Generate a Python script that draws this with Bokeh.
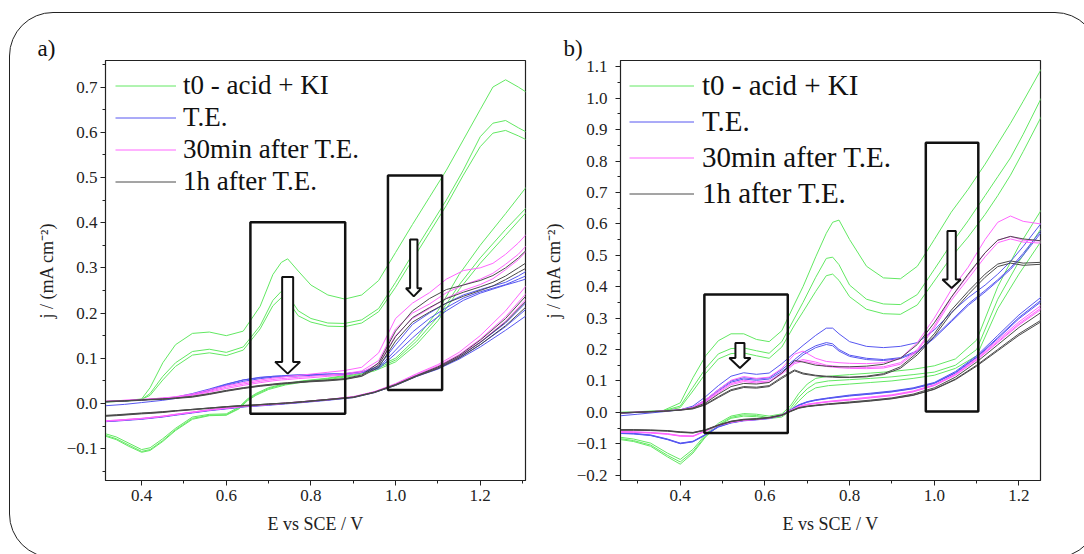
from bokeh.plotting import figure
from bokeh.models import Range1d, FixedTicker, Legend, LegendItem, BoxAnnotation, GlobalInlineStyleSheet
from bokeh.layouts import row
from bokeh.embed import file_html
from bokeh.resources import INLINE

# ---------------- common ----------------
SERIES_LABELS = ["t0 - acid + KI", "T.E.", "30min after T.E.", "1h after T.E."]
SERIES_COLORS = ["#62e862", "#5656f0", "#ff66ff", "#4a4a4a"]
X_TICKS = [0.4, 0.6, 0.8, 1.0, 1.2]
X_TICK_LABELS = ["0.4", "0.6", "0.8", "1.0", "1.2"]

# ---------------- panel a data ----------------
A_XF = [0.30, 0.36, 0.40, 0.42, 0.45, 0.48, 0.52, 0.56, 0.60, 0.64, 0.68, 0.71, 0.73, 0.745, 0.77,
        0.80, 0.84, 0.88, 0.92, 0.96, 1.00, 1.04, 1.08, 1.12, 1.16, 1.20, 1.23, 1.26, 1.29, 1.31]
A_XR = [1.31, 1.26, 1.20, 1.15, 1.10, 1.05, 1.00, 0.95, 0.90, 0.84, 0.78, 0.74, 0.70, 0.67, 0.65,
        0.63, 0.60, 0.56, 0.52, 0.48, 0.45, 0.42, 0.40, 0.37, 0.34, 0.30]

A_T0_FWD = [
    [0.003, 0.006, 0.010, 0.035, 0.090, 0.130, 0.155, 0.158, 0.150, 0.160, 0.215, 0.285, 0.312, 0.320, 0.293,
     0.262, 0.240, 0.231, 0.240, 0.272, 0.334, 0.396, 0.456, 0.516, 0.583, 0.650, 0.700, 0.716, 0.700, 0.688],
    [0.003, 0.005, 0.009, 0.022, 0.060, 0.090, 0.115, 0.120, 0.113, 0.125, 0.172, 0.228, 0.248, 0.240, 0.205,
     0.188, 0.178, 0.177, 0.185, 0.210, 0.268, 0.330, 0.390, 0.450, 0.516, 0.590, 0.620, 0.626, 0.610, 0.600],
    [0.003, 0.005, 0.009, 0.018, 0.052, 0.082, 0.107, 0.112, 0.106, 0.118, 0.165, 0.216, 0.234, 0.228, 0.194,
     0.180, 0.171, 0.170, 0.178, 0.203, 0.257, 0.318, 0.378, 0.438, 0.505, 0.568, 0.598, 0.604, 0.592, 0.583],
]
A_T0_REV = [
    [0.480, 0.420, 0.350, 0.285, 0.205, 0.145, 0.100, 0.078, 0.065, 0.056, 0.050, 0.044, 0.035, 0.022, 0.010,
     -0.008, -0.023, -0.024, -0.030, -0.055, -0.078, -0.098, -0.102, -0.088, -0.074, -0.063],
    [0.434, 0.385, 0.322, 0.262, 0.192, 0.138, 0.096, 0.075, 0.063, 0.055, 0.049, 0.043, 0.033, 0.020, 0.008,
     -0.010, -0.025, -0.026, -0.033, -0.058, -0.082, -0.102, -0.106, -0.092, -0.078, -0.066],
    [0.424, 0.372, 0.310, 0.252, 0.183, 0.131, 0.092, 0.072, 0.061, 0.053, 0.047, 0.041, 0.031, 0.018, 0.006,
     -0.012, -0.026, -0.027, -0.035, -0.060, -0.084, -0.104, -0.108, -0.095, -0.080, -0.068],
]
A_TE_FWD = [
    [-0.006, -0.002, 0.002, 0.004, 0.007, 0.011, 0.020, 0.030, 0.042, 0.052, 0.057, 0.060, 0.061, 0.062, 0.063,
     0.064, 0.065, 0.066, 0.070, 0.082, 0.130, 0.175, 0.200, 0.222, 0.240, 0.252, 0.260, 0.268, 0.282, 0.293],
    [0.003, 0.006, 0.008, 0.009, 0.011, 0.014, 0.022, 0.032, 0.043, 0.052, 0.058, 0.060, 0.061, 0.062, 0.063,
     0.064, 0.065, 0.066, 0.069, 0.079, 0.118, 0.158, 0.188, 0.212, 0.233, 0.247, 0.255, 0.263, 0.275, 0.283],
    [0.003, 0.006, 0.008, 0.009, 0.011, 0.013, 0.020, 0.029, 0.040, 0.049, 0.055, 0.058, 0.059, 0.060, 0.061,
     0.062, 0.063, 0.064, 0.068, 0.077, 0.110, 0.145, 0.178, 0.205, 0.228, 0.244, 0.253, 0.262, 0.270, 0.276],
]
A_TE_REV = [
    [0.225, 0.178, 0.135, 0.104, 0.080, 0.062, 0.042, 0.025, 0.014, 0.008, 0.003, 0.000, -0.003, -0.005, -0.006,
     -0.008, -0.011, -0.015, -0.020, -0.025, -0.029, -0.032, -0.034, -0.036, -0.038, -0.040],
    [0.210, 0.170, 0.130, 0.101, 0.078, 0.061, 0.041, 0.025, 0.014, 0.008, 0.003, 0.000, -0.003, -0.005, -0.006,
     -0.008, -0.011, -0.015, -0.020, -0.025, -0.029, -0.032, -0.034, -0.036, -0.038, -0.040],
    [0.195, 0.162, 0.125, 0.098, 0.076, 0.060, 0.040, 0.024, 0.013, 0.007, 0.002, -0.001, -0.004, -0.006, -0.007,
     -0.009, -0.012, -0.016, -0.021, -0.026, -0.030, -0.033, -0.035, -0.037, -0.039, -0.041],
]
A_30_FWD = [
    [0.004, 0.007, 0.009, 0.010, 0.012, 0.015, 0.021, 0.030, 0.039, 0.046, 0.052, 0.056, 0.058, 0.060, 0.062,
     0.065, 0.069, 0.073, 0.080, 0.112, 0.188, 0.222, 0.245, 0.275, 0.294, 0.300, 0.310, 0.330, 0.355, 0.375],
    [0.004, 0.007, 0.009, 0.010, 0.012, 0.014, 0.019, 0.027, 0.036, 0.043, 0.049, 0.053, 0.055, 0.056, 0.058,
     0.060, 0.063, 0.066, 0.072, 0.095, 0.165, 0.200, 0.220, 0.245, 0.262, 0.275, 0.288, 0.308, 0.330, 0.350],
    [0.004, 0.006, 0.008, 0.009, 0.011, 0.013, 0.018, 0.025, 0.033, 0.040, 0.046, 0.050, 0.052, 0.053, 0.055,
     0.057, 0.060, 0.063, 0.069, 0.088, 0.150, 0.188, 0.210, 0.233, 0.250, 0.263, 0.276, 0.296, 0.318, 0.338],
]
A_30_REV = [
    [0.262, 0.205, 0.150, 0.113, 0.086, 0.066, 0.044, 0.026, 0.015, 0.009, 0.004, 0.001, -0.002, -0.004, -0.005,
     -0.007, -0.010, -0.014, -0.019, -0.024, -0.028, -0.031, -0.033, -0.035, -0.037, -0.039],
    [0.245, 0.192, 0.142, 0.108, 0.083, 0.064, 0.043, 0.026, 0.015, 0.009, 0.004, 0.001, -0.002, -0.004, -0.005,
     -0.007, -0.010, -0.014, -0.019, -0.024, -0.028, -0.031, -0.033, -0.035, -0.037, -0.039],
    [0.232, 0.182, 0.136, 0.104, 0.080, 0.062, 0.042, 0.025, 0.014, 0.008, 0.003, 0.000, -0.003, -0.005, -0.006,
     -0.008, -0.011, -0.015, -0.020, -0.025, -0.029, -0.032, -0.034, -0.036, -0.038, -0.040],
]
A_1H_FWD = [
    [0.004, 0.006, 0.008, 0.009, 0.010, 0.012, 0.016, 0.022, 0.029, 0.035, 0.040, 0.043, 0.045, 0.046, 0.048,
     0.050, 0.052, 0.055, 0.063, 0.090, 0.160, 0.205, 0.232, 0.252, 0.262, 0.272, 0.283, 0.300, 0.322, 0.340],
    [0.004, 0.006, 0.008, 0.009, 0.010, 0.012, 0.015, 0.021, 0.028, 0.034, 0.039, 0.042, 0.044, 0.045, 0.047,
     0.049, 0.051, 0.054, 0.061, 0.085, 0.148, 0.190, 0.212, 0.232, 0.246, 0.258, 0.268, 0.282, 0.300, 0.312],
    [0.003, 0.005, 0.007, 0.008, 0.009, 0.011, 0.014, 0.020, 0.027, 0.033, 0.038, 0.041, 0.043, 0.044, 0.046,
     0.048, 0.050, 0.053, 0.060, 0.080, 0.138, 0.180, 0.202, 0.222, 0.237, 0.250, 0.260, 0.274, 0.290, 0.300],
]
A_1H_REV = [
    [0.240, 0.188, 0.140, 0.106, 0.081, 0.062, 0.042, 0.025, 0.014, 0.009, 0.004, 0.001, -0.001, -0.003, -0.004,
     -0.005, -0.007, -0.010, -0.013, -0.016, -0.018, -0.020, -0.021, -0.023, -0.025, -0.027],
    [0.228, 0.180, 0.135, 0.103, 0.079, 0.061, 0.041, 0.025, 0.014, 0.009, 0.004, 0.001, -0.001, -0.003, -0.004,
     -0.005, -0.007, -0.010, -0.013, -0.016, -0.019, -0.021, -0.022, -0.024, -0.026, -0.028],
    [0.215, 0.172, 0.130, 0.100, 0.077, 0.060, 0.040, 0.024, 0.013, 0.008, 0.003, 0.000, -0.002, -0.004, -0.005,
     -0.006, -0.008, -0.011, -0.014, -0.017, -0.020, -0.022, -0.023, -0.025, -0.027, -0.029],
]
A_Y_TICKS = [-0.1, 0.0, 0.1, 0.2, 0.3, 0.4, 0.5, 0.6, 0.7]
A_Y_TICK_LABELS = ["\u22120.1", "0.0", "0.1", "0.2", "0.3", "0.4", "0.5", "0.6", "0.7"]
# boxes: left, right, bottom, top
A_BOXES = [(0.657, 0.881, -0.023, 0.401), (0.982, 1.110, 0.030, 0.5045)]
# arrows: x, tail, head base, tip, shaft width, head width
A_ARROWS = [(0.745, 0.280, 0.092, 0.066, 0.026, 0.059), (1.043, 0.3625, 0.255, 0.237, 0.0174, 0.037)]

# ---------------- panel b data ----------------
B_XF = [0.25, 0.30, 0.36, 0.40, 0.43, 0.46, 0.49, 0.52, 0.55, 0.58, 0.61, 0.64, 0.67, 0.69, 0.72, 0.745,
        0.76, 0.775, 0.80, 0.84, 0.88, 0.92, 0.96, 1.00, 1.04, 1.08, 1.12, 1.15, 1.18, 1.21, 1.26]
B_XR = [1.26, 1.20, 1.15, 1.10, 1.05, 1.00, 0.95, 0.90, 0.85, 0.80, 0.75, 0.72, 0.70, 0.68, 0.66, 0.64,
        0.61, 0.58, 0.55, 0.52, 0.49, 0.46, 0.43, 0.40, 0.37, 0.33, 0.29, 0.25]

B_T0_FWD = [
    [0.000, 0.002, 0.006, 0.030, 0.110, 0.180, 0.228, 0.250, 0.250, 0.232, 0.225, 0.260, 0.345, 0.400, 0.495, 0.570,
     0.605, 0.612, 0.550, 0.465, 0.428, 0.425, 0.465, 0.550, 0.637, 0.710, 0.790, 0.855, 0.920, 0.990, 1.110],
    [-0.001, 0.001, 0.005, 0.020, 0.080, 0.140, 0.186, 0.203, 0.205, 0.196, 0.188, 0.225, 0.300, 0.350, 0.430, 0.490,
     0.494, 0.470, 0.405, 0.360, 0.345, 0.343, 0.375, 0.455, 0.536, 0.610, 0.690, 0.750, 0.810, 0.885, 1.020],
    [-0.002, 0.000, 0.004, 0.015, 0.068, 0.124, 0.170, 0.187, 0.189, 0.180, 0.172, 0.208, 0.278, 0.320, 0.385, 0.435,
     0.440, 0.420, 0.368, 0.328, 0.314, 0.312, 0.342, 0.418, 0.494, 0.558, 0.630, 0.690, 0.755, 0.830, 0.960],
]
B_T0_REV = [
    [0.660, 0.530, 0.400, 0.230, 0.170, 0.148, 0.137, 0.130, 0.125, 0.120, 0.115, 0.108, 0.090, 0.060, 0.020, -0.005,
     -0.012, -0.006, -0.004, -0.012, -0.035, -0.070, -0.118, -0.150, -0.130, -0.098, -0.085, -0.078],
    [0.600, 0.480, 0.360, 0.200, 0.150, 0.128, 0.120, 0.113, 0.108, 0.104, 0.100, 0.093, 0.075, 0.048, 0.012, -0.010,
     -0.017, -0.010, -0.008, -0.016, -0.040, -0.075, -0.125, -0.158, -0.137, -0.104, -0.090, -0.082],
    [0.560, 0.440, 0.330, 0.180, 0.140, 0.118, 0.108, 0.100, 0.095, 0.090, 0.085, 0.078, 0.062, 0.036, 0.005, -0.015,
     -0.020, -0.014, -0.012, -0.019, -0.043, -0.078, -0.130, -0.165, -0.142, -0.108, -0.093, -0.085],
]
B_TE_FWD = [
    [-0.012, -0.006, 0.002, 0.008, 0.020, 0.050, 0.085, 0.115, 0.126, 0.121, 0.125, 0.155, 0.190, 0.213, 0.245, 0.268,
     0.268, 0.250, 0.225, 0.210, 0.206, 0.210, 0.222, 0.262, 0.318, 0.365, 0.405, 0.440, 0.480, 0.528, 0.615],
    [-0.004, 0.000, 0.004, 0.008, 0.016, 0.040, 0.072, 0.100, 0.110, 0.106, 0.110, 0.136, 0.168, 0.190, 0.212, 0.222,
     0.218, 0.200, 0.182, 0.172, 0.168, 0.174, 0.196, 0.240, 0.292, 0.345, 0.388, 0.422, 0.460, 0.506, 0.592],
    [-0.003, 0.000, 0.004, 0.008, 0.015, 0.037, 0.068, 0.096, 0.106, 0.102, 0.106, 0.130, 0.160, 0.183, 0.206, 0.216,
     0.212, 0.195, 0.178, 0.168, 0.165, 0.171, 0.192, 0.236, 0.288, 0.340, 0.383, 0.418, 0.455, 0.500, 0.585],
]
B_TE_REV = [
    [0.375, 0.310, 0.245, 0.180, 0.130, 0.095, 0.078, 0.068, 0.061, 0.055, 0.046, 0.040, 0.034, 0.024, 0.008, -0.008,
     -0.018, -0.022, -0.025, -0.032, -0.045, -0.070, -0.092, -0.098, -0.085, -0.072, -0.067, -0.065],
    [0.365, 0.302, 0.238, 0.176, 0.127, 0.093, 0.076, 0.066, 0.059, 0.053, 0.045, 0.039, 0.033, 0.023, 0.007, -0.009,
     -0.019, -0.023, -0.026, -0.033, -0.046, -0.071, -0.093, -0.099, -0.086, -0.073, -0.068, -0.066],
    [0.360, 0.298, 0.235, 0.174, 0.125, 0.092, 0.075, 0.065, 0.058, 0.052, 0.044, 0.038, 0.032, 0.022, 0.006, -0.010,
     -0.020, -0.024, -0.027, -0.034, -0.047, -0.072, -0.094, -0.100, -0.087, -0.074, -0.069, -0.067],
]
B_30_FWD = [
    [-0.002, 0.001, 0.004, 0.008, 0.016, 0.040, 0.072, 0.102, 0.114, 0.108, 0.112, 0.140, 0.185, 0.195, 0.172, 0.162,
     0.160, 0.158, 0.156, 0.155, 0.158, 0.172, 0.222, 0.300, 0.390, 0.462, 0.550, 0.605, 0.625, 0.608, 0.598],
    [-0.002, 0.001, 0.004, 0.008, 0.015, 0.037, 0.066, 0.092, 0.102, 0.097, 0.100, 0.126, 0.160, 0.168, 0.160, 0.150,
     0.148, 0.146, 0.144, 0.143, 0.145, 0.158, 0.200, 0.275, 0.365, 0.436, 0.508, 0.548, 0.560, 0.548, 0.545],
    [-0.003, 0.000, 0.004, 0.008, 0.014, 0.034, 0.062, 0.088, 0.098, 0.093, 0.096, 0.122, 0.155, 0.163, 0.155, 0.146,
     0.144, 0.142, 0.140, 0.139, 0.141, 0.153, 0.195, 0.268, 0.356, 0.425, 0.495, 0.540, 0.552, 0.542, 0.538],
]
B_30_REV = [
    [0.348, 0.288, 0.230, 0.172, 0.122, 0.088, 0.068, 0.056, 0.049, 0.042, 0.035, 0.030, 0.026, 0.019, 0.006, -0.008,
     -0.017, -0.021, -0.024, -0.030, -0.040, -0.058, -0.075, -0.074, -0.068, -0.064, -0.062, -0.061],
    [0.340, 0.282, 0.225, 0.168, 0.120, 0.086, 0.066, 0.054, 0.047, 0.040, 0.034, 0.029, 0.025, 0.018, 0.005, -0.009,
     -0.018, -0.022, -0.025, -0.031, -0.041, -0.059, -0.076, -0.075, -0.069, -0.065, -0.063, -0.062],
    [0.335, 0.278, 0.222, 0.166, 0.118, 0.085, 0.065, 0.053, 0.046, 0.039, 0.033, 0.028, 0.024, 0.017, 0.004, -0.010,
     -0.019, -0.023, -0.026, -0.032, -0.042, -0.060, -0.077, -0.076, -0.070, -0.066, -0.064, -0.063],
]
B_1H_FWD = [
    [-0.002, 0.001, 0.004, 0.008, 0.014, 0.030, 0.058, 0.082, 0.092, 0.090, 0.095, 0.125, 0.165, 0.160, 0.150, 0.147,
     0.146, 0.145, 0.145, 0.147, 0.153, 0.172, 0.216, 0.285, 0.366, 0.440, 0.508, 0.548, 0.560, 0.552, 0.545],
    [-0.002, 0.000, 0.004, 0.007, 0.012, 0.026, 0.050, 0.072, 0.082, 0.080, 0.085, 0.112, 0.135, 0.125, 0.118, 0.115,
     0.114, 0.113, 0.112, 0.115, 0.123, 0.145, 0.190, 0.250, 0.325, 0.385, 0.440, 0.472, 0.482, 0.475, 0.478],
    [-0.003, 0.000, 0.003, 0.007, 0.011, 0.024, 0.047, 0.069, 0.079, 0.077, 0.082, 0.108, 0.132, 0.122, 0.116, 0.113,
     0.112, 0.111, 0.111, 0.113, 0.120, 0.140, 0.183, 0.242, 0.315, 0.375, 0.430, 0.464, 0.475, 0.468, 0.472],
]
B_1H_REV = [
    [0.325, 0.270, 0.215, 0.160, 0.112, 0.078, 0.058, 0.046, 0.039, 0.033, 0.027, 0.023, 0.020, 0.015, 0.004, -0.008,
     -0.016, -0.020, -0.022, -0.028, -0.040, -0.055, -0.064, -0.062, -0.058, -0.056, -0.055, -0.055],
    [0.300, 0.250, 0.200, 0.150, 0.106, 0.074, 0.055, 0.044, 0.037, 0.031, 0.026, 0.022, 0.019, 0.014, 0.003, -0.009,
     -0.017, -0.021, -0.023, -0.029, -0.041, -0.056, -0.065, -0.063, -0.059, -0.057, -0.056, -0.056],
    [0.295, 0.245, 0.196, 0.147, 0.104, 0.073, 0.054, 0.043, 0.036, 0.030, 0.025, 0.021, 0.018, 0.013, 0.002, -0.010,
     -0.018, -0.022, -0.024, -0.030, -0.042, -0.057, -0.066, -0.064, -0.060, -0.058, -0.057, -0.057],
]
B_Y_TICKS = [-0.2, -0.1, 0.0, 0.1, 0.2, 0.3, 0.4, 0.5, 0.6, 0.7, 0.8, 0.9, 1.0, 1.1]
B_Y_TICK_LABELS = ["\u22120.2", "\u22120.1", "0.0", "0.1", "0.2", "0.3", "0.4", "0.5", "0.6", "0.7",
                   "0.8", "0.9", "1.0", "1.1"]
B_BOXES = [(0.457, 0.654, -0.066, 0.375), (0.980, 1.104, 0.0027, 0.858)]
B_ARROWS = [(0.541, 0.221, 0.173, 0.141, 0.0213, 0.0497), (1.041, 0.577, 0.423, 0.396, 0.0197, 0.0434)]

FONT = "Liberation Serif"


def make_panel(xr, yr, yticks, ytick_labels, border_left, border_right, ylabel_standoff, tick_standoff,
               tag, tag_offset):
    p = figure(frame_width=420, frame_height=420, min_border_left=border_left, min_border_right=border_right,
               min_border_top=60, min_border_bottom=66, x_range=Range1d(*xr), y_range=Range1d(*yr),
               output_backend="svg", toolbar_location=None, background_fill_color="white",
               border_fill_color="white", outline_line_color="#222222", outline_line_width=1.2,
               title=tag)
    p.title.align = "left"
    p.title.offset = tag_offset
    p.title.standoff = 0
    p.title.text_font = FONT
    p.title.text_font_size = "23px"
    p.title.text_font_style = "normal"
    p.title.text_color = "#111111"
    p.xgrid.visible = False
    p.ygrid.visible = False
    xminor = [round(t + 0.1, 2) for t in [0.2] + X_TICKS]
    p.xaxis.ticker = FixedTicker(ticks=X_TICKS, minor_ticks=xminor)
    p.xaxis.major_label_overrides = dict(zip(X_TICKS, X_TICK_LABELS))
    yminor = [round(t + 0.05, 3) for t in [yticks[0] - 0.1] + yticks]
    p.yaxis.ticker = FixedTicker(ticks=yticks, minor_ticks=yminor)
    p.yaxis.major_label_overrides = dict(zip(yticks, ytick_labels))
    for ax in (p.xaxis[0], p.yaxis[0]):
        ax.axis_line_color = "#222222"
        ax.major_tick_line_color = "#222222"
        ax.minor_tick_line_color = "#222222"
        ax.major_tick_in = 0
        ax.major_tick_out = 5
        ax.minor_tick_in = 0
        ax.minor_tick_out = 3
        ax.major_label_text_font = FONT
        ax.major_label_text_font_size = "17px"
        ax.major_label_text_color = "#222222"
        ax.axis_label_text_font = FONT
        ax.axis_label_text_font_size = "18px"
        ax.axis_label_text_font_style = "normal"
        ax.axis_label_text_color = "#222222"
    p.xaxis.axis_label = "E vs SCE / V"
    p.xaxis.major_label_standoff = 4
    p.xaxis.axis_label_standoff = 10
    p.yaxis.axis_label = "j / (mA cm\u207b\u00b2)"
    p.yaxis.major_label_standoff = tick_standoff
    p.yaxis.axis_label_standoff = ylabel_standoff
    return p


def draw_curves(p, xf, xr, groups):
    firsts = []
    for (fwd, rev), color in zip(groups, SERIES_COLORS):
        first = None
        for f, r in zip(fwd, rev):
            rr = p.line(xf + xr, f + r, line_color=color, line_width=1)
            if first is None:
                first = rr
        firsts.append(first)
    return firsts


def draw_marks(p, boxes, arrows):
    for (l, r, b, t) in boxes:
        p.add_layout(BoxAnnotation(left=l, right=r, bottom=b, top=t, fill_alpha=0, fill_color=None,
                                   line_color="#111111", line_alpha=1.0, line_width=2.5))
    for (x, tail, base, tip, sw, hw) in arrows:
        xs = [x - sw / 2, x + sw / 2, x + sw / 2, x + hw / 2, x, x - hw / 2, x - sw / 2]
        ys = [tail, tail, base, base, tip, base, base]
        p.patch(xs, ys, fill_color="white", line_color="#111111", line_width=2)


def add_legend(p, firsts, size, gw, gh, pad, standoff, spacing):
    items = [LegendItem(label=lab, renderers=[r]) for lab, r in zip(SERIES_LABELS, firsts)]
    leg = Legend(items=items, location="top_left", margin=0, padding=pad, spacing=spacing,
                 glyph_width=gw, glyph_height=gh, label_height=gh, label_standoff=standoff,
                 label_text_font=FONT, label_text_font_size=size, label_text_color="#111111",
                 border_line_alpha=0, background_fill_alpha=0)
    p.add_layout(leg)


# ---------------- panel a ----------------
pa = make_panel((0.3146, 1.307), (-0.1704, 0.7587), A_Y_TICKS, A_Y_TICK_LABELS, 105, 15, 7, 3, "a)", -68)
fa = draw_curves(pa, A_XF, A_XR, [(A_T0_FWD, A_T0_REV), (A_TE_FWD, A_TE_REV),
                                  (A_30_FWD, A_30_REV), (A_1H_FWD, A_1H_REV)])
draw_marks(pa, A_BOXES, A_ARROWS)
add_legend(pa, fa, "27px", 61, 31, 10, 7, 1)

# ---------------- panel b ----------------
pb = make_panel((0.2589, 1.2509), (-0.217, 1.120), B_Y_TICKS, B_Y_TICK_LABELS, 79, 37, 10, 8, "b)", -57)
fb = draw_curves(pb, B_XF, B_XR, [(B_T0_FWD, B_T0_REV), (B_TE_FWD, B_TE_REV),
                                  (B_30_FWD, B_30_REV), (B_1H_FWD, B_1H_REV)])
draw_marks(pb, B_BOXES, B_ARROWS)
add_legend(pb, fb, "29px", 65, 33, 9, 8, 3)

# rounded outer frame around both panels
frame_css = GlobalInlineStyleSheet(css=(
    "body::before{content:'';position:fixed;left:9px;top:12px;width:1090px;height:546px;"
    "border:1.5px solid #222;border-radius:44px;pointer-events:none;z-index:1000;box-sizing:border-box;}"
))

layout = row(pa, pb, stylesheets=[frame_css])
open("out.html", "w").write(file_html(layout, INLINE))
